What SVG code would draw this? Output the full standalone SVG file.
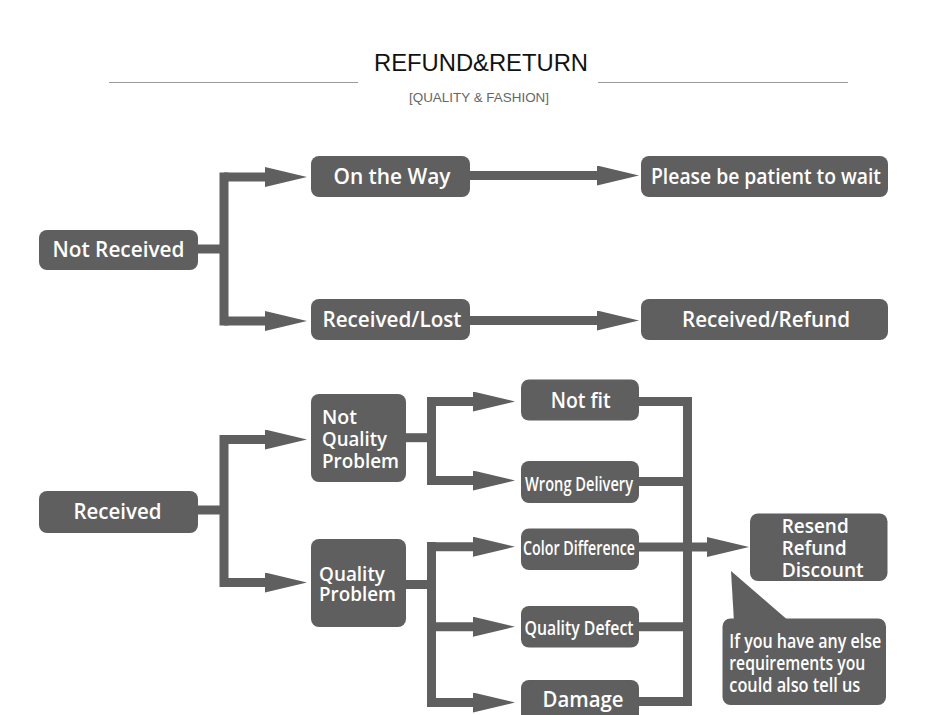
<svg xmlns="http://www.w3.org/2000/svg" width="950" height="715" viewBox="0 0 950 715">
<style>
.box{fill:#5f5f5f}
.t{fill:#fff;font-family:"Open Sans","DejaVu Sans",sans-serif;font-size:21px;font-weight:600}
.m{font-size:20px}
.c{text-anchor:middle}
.n{font-family:"Open Sans","DejaVu Sans",sans-serif;font-size:20px;font-weight:600;fill:#fff}
.w{stroke:#5f5f5f;stroke-width:9;fill:none}
</style>
<defs>
<marker id="ah" markerUnits="userSpaceOnUse" markerWidth="42" markerHeight="20" viewBox="0 0 42 20" refX="0" refY="10" orient="auto">
<path d="M0,0 L42,10 L0,20 z" fill="#5f5f5f"/>
</marker>
</defs>
<rect width="950" height="715" fill="#fff"/>
<g id="header">
<line x1="109" y1="82.5" x2="358" y2="82.5" stroke="#9a9a9a" stroke-width="1.2"/>
<line x1="598" y1="82.5" x2="848" y2="82.5" stroke="#9a9a9a" stroke-width="1.2"/>
<text x="481" y="71" text-anchor="middle" font-family="Liberation Sans, Arial, sans-serif" font-size="24" fill="#111" textLength="214" lengthAdjust="spacingAndGlyphs">REFUND&amp;RETURN</text>
<text x="479" y="102" text-anchor="middle" font-family="Liberation Sans, Arial, sans-serif" font-size="13" fill="#666" textLength="140" lengthAdjust="spacingAndGlyphs">[QUALITY &amp; FASHION]</text>
</g>
<g id="connectors">
<path class="w" d="M198,249 H224"/>
<path class="w" d="M224,172.5 V325.5"/>
<path class="w" d="M224,177 H265" marker-end="url(#ah)"/>
<path class="w" d="M224,321 H265" marker-end="url(#ah)"/>
<path class="w" d="M470,175.5 H597" marker-end="url(#ah)"/>
<path class="w" d="M470,320.5 H597" marker-end="url(#ah)"/>
<path class="w" d="M198,510 H224"/>
<path class="w" d="M224,435 V587"/>
<path class="w" d="M224,439.5 H265" marker-end="url(#ah)"/>
<path class="w" d="M224,582.5 H265" marker-end="url(#ah)"/>
<path class="w" d="M406,437.7 H431.5"/>
<path class="w" d="M431.5,397 V485"/>
<path class="w" d="M431.5,401.5 H473" marker-end="url(#ah)"/>
<path class="w" d="M431.5,480.5 H473" marker-end="url(#ah)"/>
<path class="w" d="M406,584.5 H431.5"/>
<path class="w" d="M431.5,542 V707"/>
<path class="w" d="M431.5,546.7 H473" marker-end="url(#ah)"/>
<path class="w" d="M431.5,626.7 H473" marker-end="url(#ah)"/>
<path class="w" d="M431.5,702.5 H473" marker-end="url(#ah)"/>
<path class="w" d="M639,401.5 H692"/>
<path class="w" d="M639,481.5 H692"/>
<path class="w" d="M639,626.7 H692"/>
<path class="w" d="M639,701.5 H692"/>
<path class="w" d="M687.5,397 V706"/>
<path class="w" d="M639,547 H707" marker-end="url(#ah)"/>
</g>
<g id="not-received">
<rect class="box" x="39" y="230" width="159" height="40" rx="8"/>
<text class="t c" x="118.5" y="257" textLength="132" lengthAdjust="spacingAndGlyphs">Not Received</text>
</g>
<g id="on-the-way">
<rect class="box" x="311" y="156" width="159" height="41" rx="8"/>
<text class="t c" x="392" y="184" textLength="117" lengthAdjust="spacingAndGlyphs">On the Way</text>
</g>
<g id="received-lost">
<rect class="box" x="311" y="299" width="159" height="41" rx="8"/>
<text class="t c" x="392" y="327" textLength="139" lengthAdjust="spacingAndGlyphs">Received/Lost</text>
</g>
<g id="please-wait">
<rect class="box" x="641" y="156" width="247" height="41" rx="8"/>
<text class="t c" x="766" y="184" textLength="230" lengthAdjust="spacingAndGlyphs">Please be patient to wait</text>
</g>
<g id="received-refund">
<rect class="box" x="641" y="299" width="247" height="41" rx="8"/>
<text class="t c" x="766" y="327" textLength="168" lengthAdjust="spacingAndGlyphs">Received/Refund</text>
</g>
<g id="received">
<rect class="box" x="39" y="491" width="159" height="42" rx="8"/>
<text class="t c" x="117.5" y="518.5" textLength="88" lengthAdjust="spacingAndGlyphs">Received</text>
</g>
<g id="not-quality-problem">
<rect class="box" x="311" y="394" width="95" height="88" rx="8"/>
<text class="t m" x="322" y="423.5" textLength="35" lengthAdjust="spacingAndGlyphs">Not</text>
<text class="t m" x="322" y="446" textLength="65" lengthAdjust="spacingAndGlyphs">Quality</text>
<text class="t m" x="322" y="467.5" textLength="77" lengthAdjust="spacingAndGlyphs">Problem</text>
</g>
<g id="quality-problem">
<rect class="box" x="311" y="539" width="95" height="88" rx="8"/>
<text class="t m" x="319" y="580.5" textLength="66" lengthAdjust="spacingAndGlyphs">Quality</text>
<text class="t m" x="319" y="600.5" textLength="77" lengthAdjust="spacingAndGlyphs">Problem</text>
</g>
<g id="not-fit">
<rect class="box" x="521" y="379.5" width="118" height="41" rx="8"/>
<text class="t c" x="580.7" y="408.3" textLength="60" lengthAdjust="spacingAndGlyphs">Not fit</text>
</g>
<g id="wrong-delivery">
<rect class="box" x="521" y="461" width="118" height="42" rx="8"/>
<text class="n c" x="579" y="490.7" textLength="108" lengthAdjust="spacingAndGlyphs">Wrong Delivery</text>
</g>
<g id="color-difference">
<rect class="box" x="521" y="528.5" width="118" height="41.5" rx="8"/>
<text class="n c" x="579" y="555" textLength="112" lengthAdjust="spacingAndGlyphs">Color Difference</text>
</g>
<g id="quality-defect">
<rect class="box" x="521" y="606" width="118" height="41.5" rx="8"/>
<text class="n c" x="579" y="635" textLength="109" lengthAdjust="spacingAndGlyphs">Quality Defect</text>
</g>
<g id="damage">
<rect class="box" x="521" y="680" width="118" height="45" rx="8"/>
<text class="t c" x="583" y="707" textLength="81" lengthAdjust="spacingAndGlyphs">Damage</text>
</g>
<g id="resend-refund-discount">
<rect class="box" x="750" y="513.5" width="137.5" height="67.5" rx="8"/>
<text class="t m" x="781.7" y="533.3" textLength="67" lengthAdjust="spacingAndGlyphs">Resend</text>
<text class="t m" x="781.7" y="555" textLength="65" lengthAdjust="spacingAndGlyphs">Refund</text>
<text class="t m" x="781.7" y="577.3" textLength="82" lengthAdjust="spacingAndGlyphs">Discount</text>
</g>
<g id="callout">
<path class="box" d="M731,571 L734,622 L790,622 Z"/>
<rect class="box" x="722.5" y="618.5" width="163.5" height="86.5" rx="8"/>
<text class="t m" x="729.3" y="648.3" textLength="152" lengthAdjust="spacingAndGlyphs">If you have any else</text>
<text class="t m" x="729.3" y="670" textLength="136" lengthAdjust="spacingAndGlyphs">requirements you</text>
<text class="t m" x="729.3" y="691.7" textLength="131" lengthAdjust="spacingAndGlyphs">could also tell us</text>
</g>
</svg>
